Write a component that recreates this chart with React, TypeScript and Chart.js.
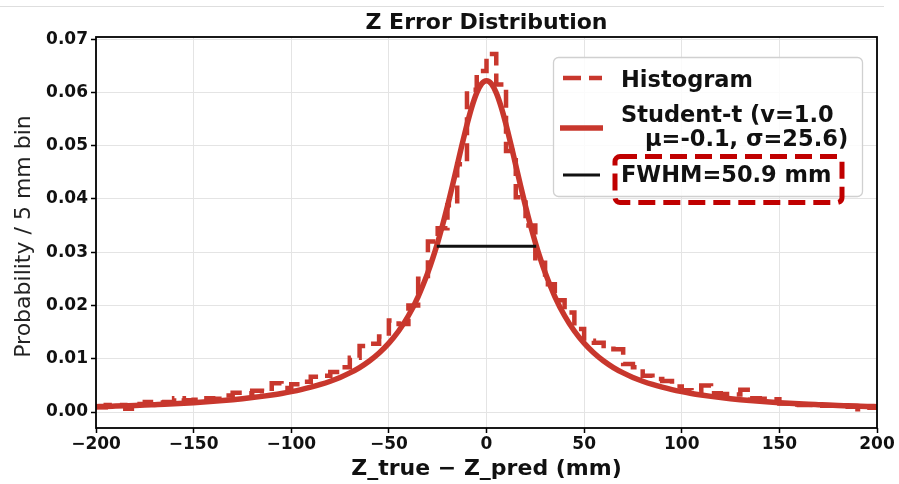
import React, { useEffect, useRef } from 'react';
import { Chart, registerables } from 'chart.js';

Chart.register(...registerables);

// ---------------- data ----------------
const HIST_EDGES = [
  -200, -195, -190, -185, -180, -175, -170, -165, -160, -155,
  -150, -145, -140, -135, -130, -125, -120, -115, -110, -105,
  -100, -95, -90, -85, -80, -75, -70, -65, -60, -55,
  -50, -45, -40, -35, -30, -25, -20, -15, -10, -5,
  0, 5, 10, 15, 20, 25, 30, 35, 40, 45,
  50, 55, 60, 65, 70, 75, 80, 85, 90, 95,
  100, 105, 110, 115, 120, 125, 130, 135, 140, 145,
  150, 155, 160, 165, 170, 175, 180, 185, 190, 195, 200,
];

const HIST_VALUES = [
  0.0009, 0.0013, 0.0013, 0.0006, 0.0015, 0.0019, 0.0018, 0.0019, 0.0026, 0.0022,
  0.0023, 0.0026, 0.0025, 0.0031, 0.0036, 0.0035, 0.0040, 0.0039, 0.0054, 0.0045,
  0.0052, 0.0057, 0.0066, 0.0068, 0.0075, 0.0084, 0.0102, 0.0124, 0.0128, 0.0142,
  0.0172, 0.0165, 0.0200, 0.0250, 0.0320, 0.0345, 0.0388, 0.0465, 0.0605, 0.0640,
  0.0672, 0.0615, 0.0490, 0.0403, 0.0350, 0.0280, 0.0240, 0.0210, 0.0187, 0.0156,
  0.0134, 0.0130, 0.0124, 0.0118, 0.0090, 0.0084, 0.0068, 0.0062, 0.0058, 0.0048,
  0.0041, 0.0040, 0.0050, 0.0035, 0.0034, 0.0033, 0.0042, 0.0026, 0.0025, 0.0024,
  0.0016, 0.0014, 0.0013, 0.0013, 0.0012, 0.0012, 0.0011, 0.0010, 0.0005, 0.0008,
];

const FIT_X = [
  -200, -195, -190, -185, -180, -175, -170, -165, -160, -155,
  -150, -145, -140, -135, -130, -125, -120, -115, -110, -105,
  -100, -95, -90, -85, -80, -75, -70, -65, -60, -55,
  -50, -45, -40, -35, -30, -27.5, -25, -22.5, -20, -17.5,
  -15, -12.5, -10, -7.5, -5, -2.5, 0, 2.5, 5, 7.5,
  10, 12.5, 15, 17.5, 20, 22.5, 25, 27.5, 30, 35,
  40, 45, 50, 55, 60, 65, 70, 75, 80, 85,
  90, 95, 100, 105, 110, 115, 120, 125, 130, 135,
  140, 145, 150, 155, 160, 165, 170, 175, 180, 185,
  190, 195, 200,
];

const FIT_Y = [
  0.00100, 0.00105, 0.00111, 0.00117, 0.00123, 0.00130, 0.00138, 0.00146, 0.00155, 0.00165,
  0.00176, 0.00188, 0.00201, 0.00216, 0.00232, 0.00250, 0.00271, 0.00294, 0.00320, 0.00349,
  0.00383, 0.00421, 0.00466, 0.00517, 0.00578, 0.00649, 0.00734, 0.00835, 0.00958, 0.01108,
  0.01292, 0.01521, 0.01807, 0.02168, 0.02621, 0.02888, 0.03184, 0.03509, 0.03862, 0.04239,
  0.04630, 0.05023, 0.05396, 0.05728, 0.05991, 0.06161, 0.06220, 0.06161, 0.05991, 0.05728,
  0.05396, 0.05023, 0.04630, 0.04239, 0.03862, 0.03509, 0.03184, 0.02888, 0.02621, 0.02168,
  0.01807, 0.01521, 0.01292, 0.01108, 0.00958, 0.00835, 0.00734, 0.00649, 0.00578, 0.00517,
  0.00466, 0.00421, 0.00383, 0.00349, 0.00320, 0.00294, 0.00271, 0.00250, 0.00232, 0.00216,
  0.00201, 0.00188, 0.00176, 0.00165, 0.00155, 0.00146, 0.00138, 0.00130, 0.00123, 0.00117,
  0.00111, 0.00105, 0.00100,
];

const FWHM_X = [-25.45, 25.45];
const FWHM_Y = [0.0311, 0.0311];

const X_TICKS = [-200, -150, -100, -50, 0, 50, 100, 150, 200];
const Y_TICKS = [0, 0.01, 0.02, 0.03, 0.04, 0.05, 0.06, 0.07];

const TITLE = 'Z Error Distribution';
const X_LABEL = 'Z_true \u2212 Z_pred (mm)';
const Y_LABEL = 'Probability / 5 mm bin';
const LEGEND_HIST = 'Histogram';
const LEGEND_FIT_1 = 'Student-t (v=1.0';
const LEGEND_FIT_2 = '\u03bc=-0.1, \u03c3=25.6)';
const LEGEND_FWHM = 'FWHM=50.9 mm';

// ---------------- styles ----------------
const RED = '#c8372d';
const BOX_RED = '#c00000';
const FONT = "'DejaVu Sans', sans-serif";

const overlayPlugin = {
  id: 'overlay',
  afterDraw(chart: any) {
    const ctx = chart.ctx as CanvasRenderingContext2D;
    const a = chart.chartArea;
    ctx.save();

    // faint screenshot line at top
    ctx.strokeStyle = '#dedede';
    ctx.lineWidth = 1;
    ctx.beginPath();
    ctx.moveTo(0, 6.5);
    ctx.lineTo(884, 6.5);
    ctx.stroke();

    // frame
    ctx.strokeStyle = '#000';
    ctx.lineWidth = 1.8;
    ctx.strokeRect(a.left, a.top, a.right - a.left, a.bottom - a.top);

    const cx = (a.left + a.right) / 2;
    // title
    ctx.fillStyle = '#111';
    ctx.font = `bold 22px ${FONT}`;
    ctx.textAlign = 'center';
    ctx.textBaseline = 'alphabetic';
    ctx.fillText(TITLE, cx, 29);

    // x label
    ctx.font = `bold 22px ${FONT}`;
    ctx.fillText(X_LABEL, cx, 475);

    // y label
    ctx.save();
    ctx.translate(30, (a.top + a.bottom) / 2 + 4);
    ctx.rotate(-Math.PI / 2);
    ctx.font = `22px ${FONT}`;
    ctx.fillStyle = '#222';
    ctx.fillText(Y_LABEL, 0, 0);
    ctx.restore();

    // legend box
    ctx.beginPath();
    ctx.roundRect(553.5, 57.5, 309, 139, 5);
    ctx.fillStyle = 'rgba(255,255,255,0.85)';
    ctx.fill();
    ctx.strokeStyle = '#d0d0d0';
    ctx.lineWidth = 1.3;
    ctx.stroke();

    // handles
    ctx.lineCap = 'butt';
    ctx.strokeStyle = RED;
    ctx.lineWidth = 4.5;
    ctx.setLineDash([18, 8]);
    ctx.beginPath();
    ctx.moveTo(563, 78);
    ctx.lineTo(602, 78);
    ctx.stroke();
    ctx.setLineDash([]);

    ctx.lineWidth = 5.5;
    ctx.beginPath();
    ctx.moveTo(560, 128);
    ctx.lineTo(603, 128);
    ctx.stroke();

    ctx.strokeStyle = '#111';
    ctx.lineWidth = 3;
    ctx.beginPath();
    ctx.moveTo(563, 175);
    ctx.lineTo(600, 175);
    ctx.stroke();

    // legend texts
    ctx.fillStyle = '#111';
    ctx.textAlign = 'left';
    ctx.font = `bold 22.5px ${FONT}`;
    ctx.fillText(LEGEND_HIST, 621, 87);
    ctx.fillText(LEGEND_FIT_1, 621, 122);
    ctx.fillText(LEGEND_FIT_2, 645, 146);
    ctx.fillText(LEGEND_FWHM, 621, 182);

    // highlight dashed box
    ctx.strokeStyle = BOX_RED;
    ctx.lineWidth = 5;
    ctx.setLineDash([17, 8]);
    ctx.beginPath();
    ctx.roundRect(615, 156.5, 227, 46, 5);
    ctx.stroke();
    ctx.setLineDash([]);

    ctx.restore();
  },
};

export default function App() {
  const ref = useRef<HTMLCanvasElement | null>(null);

  useEffect(() => {
    if (!ref.current) return;
    const histPoints: { x: number; y: number }[] = [];
    HIST_VALUES.forEach((v, i) => {
      histPoints.push({ x: HIST_EDGES[i], y: v });
      histPoints.push({ x: HIST_EDGES[i + 1], y: v });
    });
    const fitPoints = FIT_X.map((x, i) => ({ x, y: FIT_Y[i] }));
    const fwhmPoints = FWHM_X.map((x, i) => ({ x, y: FWHM_Y[i] }));

    const tickFont = { family: FONT, size: 17, weight: 'bold' as const };

    const chart = new Chart(ref.current, {
      type: 'line',
      data: {
        datasets: [
          {
            label: 'Histogram',
            data: histPoints,
            borderColor: RED,
            borderWidth: 4.5,
            borderDash: [18, 8],
            pointRadius: 0,
            tension: 0,
            fill: false,
            order: 2,
          },
          {
            label: 'Student-t',
            data: fitPoints,
            borderColor: RED,
            borderWidth: 5.5,
            pointRadius: 0,
            cubicInterpolationMode: 'monotone',
            fill: false,
            order: 1,
          },
          {
            label: 'FWHM',
            data: fwhmPoints,
            borderColor: '#111',
            borderWidth: 3,
            pointRadius: 0,
            fill: false,
            order: 0,
          },
        ],
      },
      options: {
        animation: false,
        responsive: false,
        devicePixelRatio: 1,
        parsing: false,
        layout: { padding: { top: 37, right: 22, bottom: 0, left: 0 } },
        plugins: {
          legend: { display: false },
          title: { display: false },
          tooltip: { enabled: false },
        },
        scales: {
          x: {
            type: 'linear',
            min: -200,
            max: 200,
            afterBuildTicks: (s: any) => {
              s.ticks = X_TICKS.map((v) => ({ value: v }));
            },
            afterFit: (s: any) => {
              s.height = 56;
            },
            ticks: {
              font: tickFont,
              color: '#111',
              padding: 1,
              maxRotation: 0,
              callback: (v: any) => (Number(v) < 0 ? '\u2212' + Math.abs(Number(v)) : String(v)),
            },
            grid: {
              color: '#e4e4e4',
              lineWidth: 1,
              tickColor: '#000',
              tickLength: 5,
              tickWidth: 1.5,
            },
            border: { display: false },
          },
          y: {
            type: 'linear',
            min: -0.003,
            max: 0.0704,
            afterBuildTicks: (s: any) => {
              s.ticks = Y_TICKS.map((v) => ({ value: v }));
            },
            afterFit: (s: any) => {
              s.width = 96;
            },
            ticks: {
              font: tickFont,
              color: '#111',
              padding: 3,
              callback: (v: any) => Number(v).toFixed(2),
            },
            grid: {
              color: '#e4e4e4',
              lineWidth: 1,
              tickColor: '#000',
              tickLength: 5,
              tickWidth: 1.5,
            },
            border: { display: false },
          },
        },
      },
      plugins: [overlayPlugin],
    });
    return () => chart.destroy();
  }, []);

  return (
    <div style={{ position: 'absolute', left: 0, top: 0, width: 899, height: 484, background: '#fff' }}>
      <canvas ref={ref} width={899} height={484} style={{ width: 899, height: 484 }} />
    </div>
  );
}
